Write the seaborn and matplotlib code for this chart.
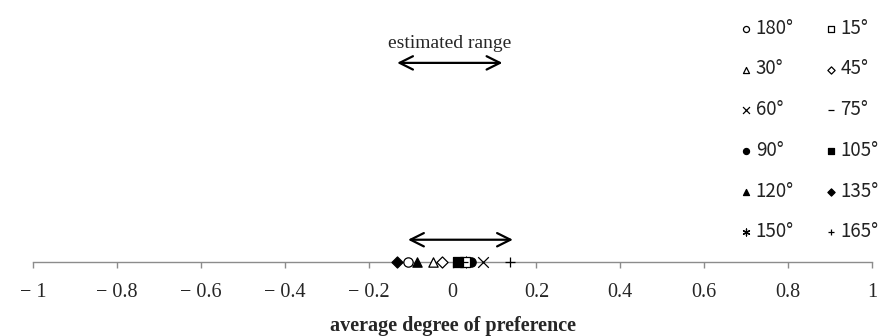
import numpy as np
import seaborn as sns
import matplotlib.pyplot as plt

# data: average degree of preference per angle
angles = ['180°', '30°', '60°', '90°', '120°', '150°',
          '15°', '45°', '75°', '105°', '135°', '165°']
values = [-0.107, -0.046, 0.073, 0.044, -0.085, 0.032,
          0.030, -0.026, 0.025, 0.012, -0.133, 0.137]
markers = ['o', '^', 'x', 'o', '^', (6, 2, 0),
           's', 'D', '_', 's', 'D', '+']
filled = [False, False, False, True, True, False,
          False, False, False, True, True, False]

est_range = [-0.132, 0.119]
obs_range = [-0.106, 0.144]

tick_vals = [-1, -0.8, -0.6, -0.4, -0.2, 0, 0.2, 0.4, 0.6, 0.8, 1]
tick_labels = ['− 1', '− 0.8', '− 0.6', '− 0.4', '− 0.2', '0',
               '0.2', '0.4', '0.6', '0.8', '1']

sns.set_style('white')
plt.rcParams['font.family'] = ['Liberation Serif', 'DejaVu Serif']

fig = plt.figure(figsize=(8.83, 3.36), dpi=100)
ax = fig.add_axes([33 / 883, 74 / 336, 839 / 883, 262 / 336])

for ang, v, m, f in zip(angles, values, markers, filled):
    size = 45 if m not in ('D',) else 32
    if m in ('x', '+', '_', (6, 2, 0)):
        sns.scatterplot(x=[v], y=[0], marker=m, color='black', s=size * 1.3,
                        linewidth=0.9, label=ang, ax=ax, clip_on=False, zorder=3)
    else:
        sns.scatterplot(x=[v], y=[0], marker=m, s=size,
                        facecolor='black' if f else 'white',
                        edgecolor='black', linewidth=0.9, label=ang,
                        ax=ax, clip_on=False, zorder=3)

# arrows
ax.annotate('', xy=(est_range[0], 0.76), xytext=(est_range[1], 0.76),
            arrowprops=dict(arrowstyle='<->', color='black', lw=1.6,
                            mutation_scale=24, shrinkA=0, shrinkB=0))
ax.text(np.mean(est_range), 0.835, 'estimated range', ha='center', va='center',
        fontsize=14)
ax.annotate('', xy=(obs_range[0], 0.085), xytext=(obs_range[1], 0.085),
            arrowprops=dict(arrowstyle='<->', color='black', lw=1.6,
                            mutation_scale=24, shrinkA=0, shrinkB=0))

ax.set_xlim(-1, 1)
ax.set_ylim(0, 1)
ax.set_xticks(tick_vals)
ax.set_xticklabels(tick_labels, fontsize=14.5)
ax.set_yticks([])
ax.set_ylabel('')
ax.set_xlabel('average degree of preference', fontsize=14.5, fontweight='bold',
              labelpad=10)
for side in ['top', 'right', 'left']:
    ax.spines[side].set_visible(False)
ax.spines['bottom'].set_color('#8c8c8c')
ax.spines['bottom'].set_linewidth(1.0)
ax.tick_params(axis='x', direction='out', length=4, color='#8c8c8c',
               width=1.0, pad=11, bottom=True)

leg = ax.legend(ncol=2, loc='upper right', bbox_to_anchor=(1.029, 1.0),
                frameon=False, labelspacing=1.05, columnspacing=1.47,
                handletextpad=0.0, handlelength=1.0, markerscale=0.65,
                borderpad=0.45,
                prop={'family': ['Noto Sans CJK JP', 'DejaVu Sans'], 'size': 13.5})
for t in leg.get_texts():
    t.set_color('#222222')

fig.savefig('out.png', dpi=100)
